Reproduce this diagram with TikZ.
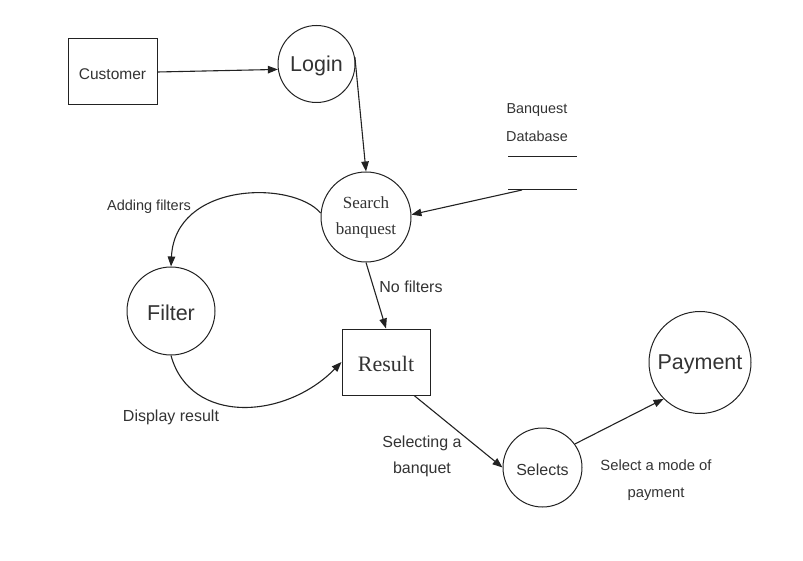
\documentclass[tikz,border=0pt]{standalone}
\usepackage{fontspec}
\setmainfont{Liberation Sans}
\newfontfamily\serifa{Liberation Serif}
\usetikzlibrary{arrows.meta}
\definecolor{trazo}{HTML}{222222}
\definecolor{texto}{HTML}{333333}
\newcommand{\bajar}[1]{\raisebox{-2pt}[\height][\depth]{#1}}
\tikzset{
  proceso/.style={circle,draw=trazo,line width=1pt,inner sep=0pt,text=texto},
  entidad/.style={rectangle,draw=trazo,line width=1pt,inner sep=0pt,text=texto},
  flujo/.style={draw=trazo,line width=1.1pt,-{Triangle[length=10pt,width=7.5pt]}},
  rotulo/.style={text=texto,align=center,inner sep=0pt},
}
\begin{document}
\begin{tikzpicture}[x=1pt,y=-1pt]
    \useasboundingbox (0,0) rectangle (803,561);
    % Entidades
    \node[entidad,minimum width=89pt,minimum height=66pt,font=\fontsize{15.5}{18}\selectfont] (customer) at (112.5,72) {\bajar{Customer}};
    \node[entidad,minimum width=88pt,minimum height=66pt,font=\serifa\fontsize{22}{26}\selectfont] (result) at (386,362) {\bajar{Result}};
    % Procesos
    \node[proceso,minimum size=77pt,font=\fontsize{21.5}{26}\selectfont] (login) at (316.5,64) {\bajar{Login}};
    \node[proceso,minimum size=90pt,align=center,font=\serifa\fontsize{17}{26}\selectfont] (search) at (366,217) {Search\\banquest};
    \node[proceso,minimum size=88pt,font=\fontsize{21.5}{26}\selectfont] (filter) at (171,311) {\bajar{Filter}};
    \node[proceso,minimum size=79pt,font=\fontsize{16}{20}\selectfont] (selects) at (542.5,467.5) {\bajar{Selects}};
    \node[proceso,minimum size=102pt,font=\fontsize{21.5}{26}\selectfont] (payment) at (700,362.5) {\bajar{Payment}};
    % Almacen de datos
    \node[rotulo,font=\fontsize{14.4}{28}\selectfont] (database) at (537,123) {Banquest\\Database};
    \coordinate (dbsupi) at (508,157);
    \coordinate (dbsupd) at (577,157);
    \coordinate (dbinfi) at (508,190);
    \coordinate (dbinfd) at (577,190);
    \coordinate (dbin) at (522,190);
    \draw[trazo,line width=1pt] (dbsupi) -- (dbsupd);
    \draw[trazo,line width=1pt] (dbinfi) -- (dbinfd);
    % Flujos
    \draw[flujo] (customer.east) -- (login.188);
    \draw[flujo] (login.10) -- (search.north);
    \draw[flujo] (dbin) -- (search.3);
    \draw[flujo] (search.south) -- (result.north);
    \draw[flujo] (search.175) .. controls (292,180) and (175,182) .. (filter.north);
    \draw[flujo] (filter.south) .. controls (190,425) and (285,420) .. (result.west);
    \draw[flujo] (result.-50) -- (selects.west);
    \draw[flujo] (selects.36) -- (payment.225);
    % Rotulos de flujos
    \node[rotulo,font=\fontsize{14.5}{18}\selectfont] (lbladding) at (149,207) {Adding filters};
    \node[rotulo,font=\fontsize{16}{18}\selectfont] (lblnofilt) at (411,287) {No filters};
    \node[rotulo,font=\fontsize{16}{18}\selectfont] (lbldisplay) at (171,417) {Display result};
    \node[rotulo,font=\fontsize{16}{26}\selectfont] (lblselecting) at (422,456) {Selecting a\\banquet};
    \node[rotulo,font=\fontsize{14.8}{27}\selectfont] (lblmode) at (656,480.5) {Select a mode of\\payment};
\end{tikzpicture}
\end{document}
